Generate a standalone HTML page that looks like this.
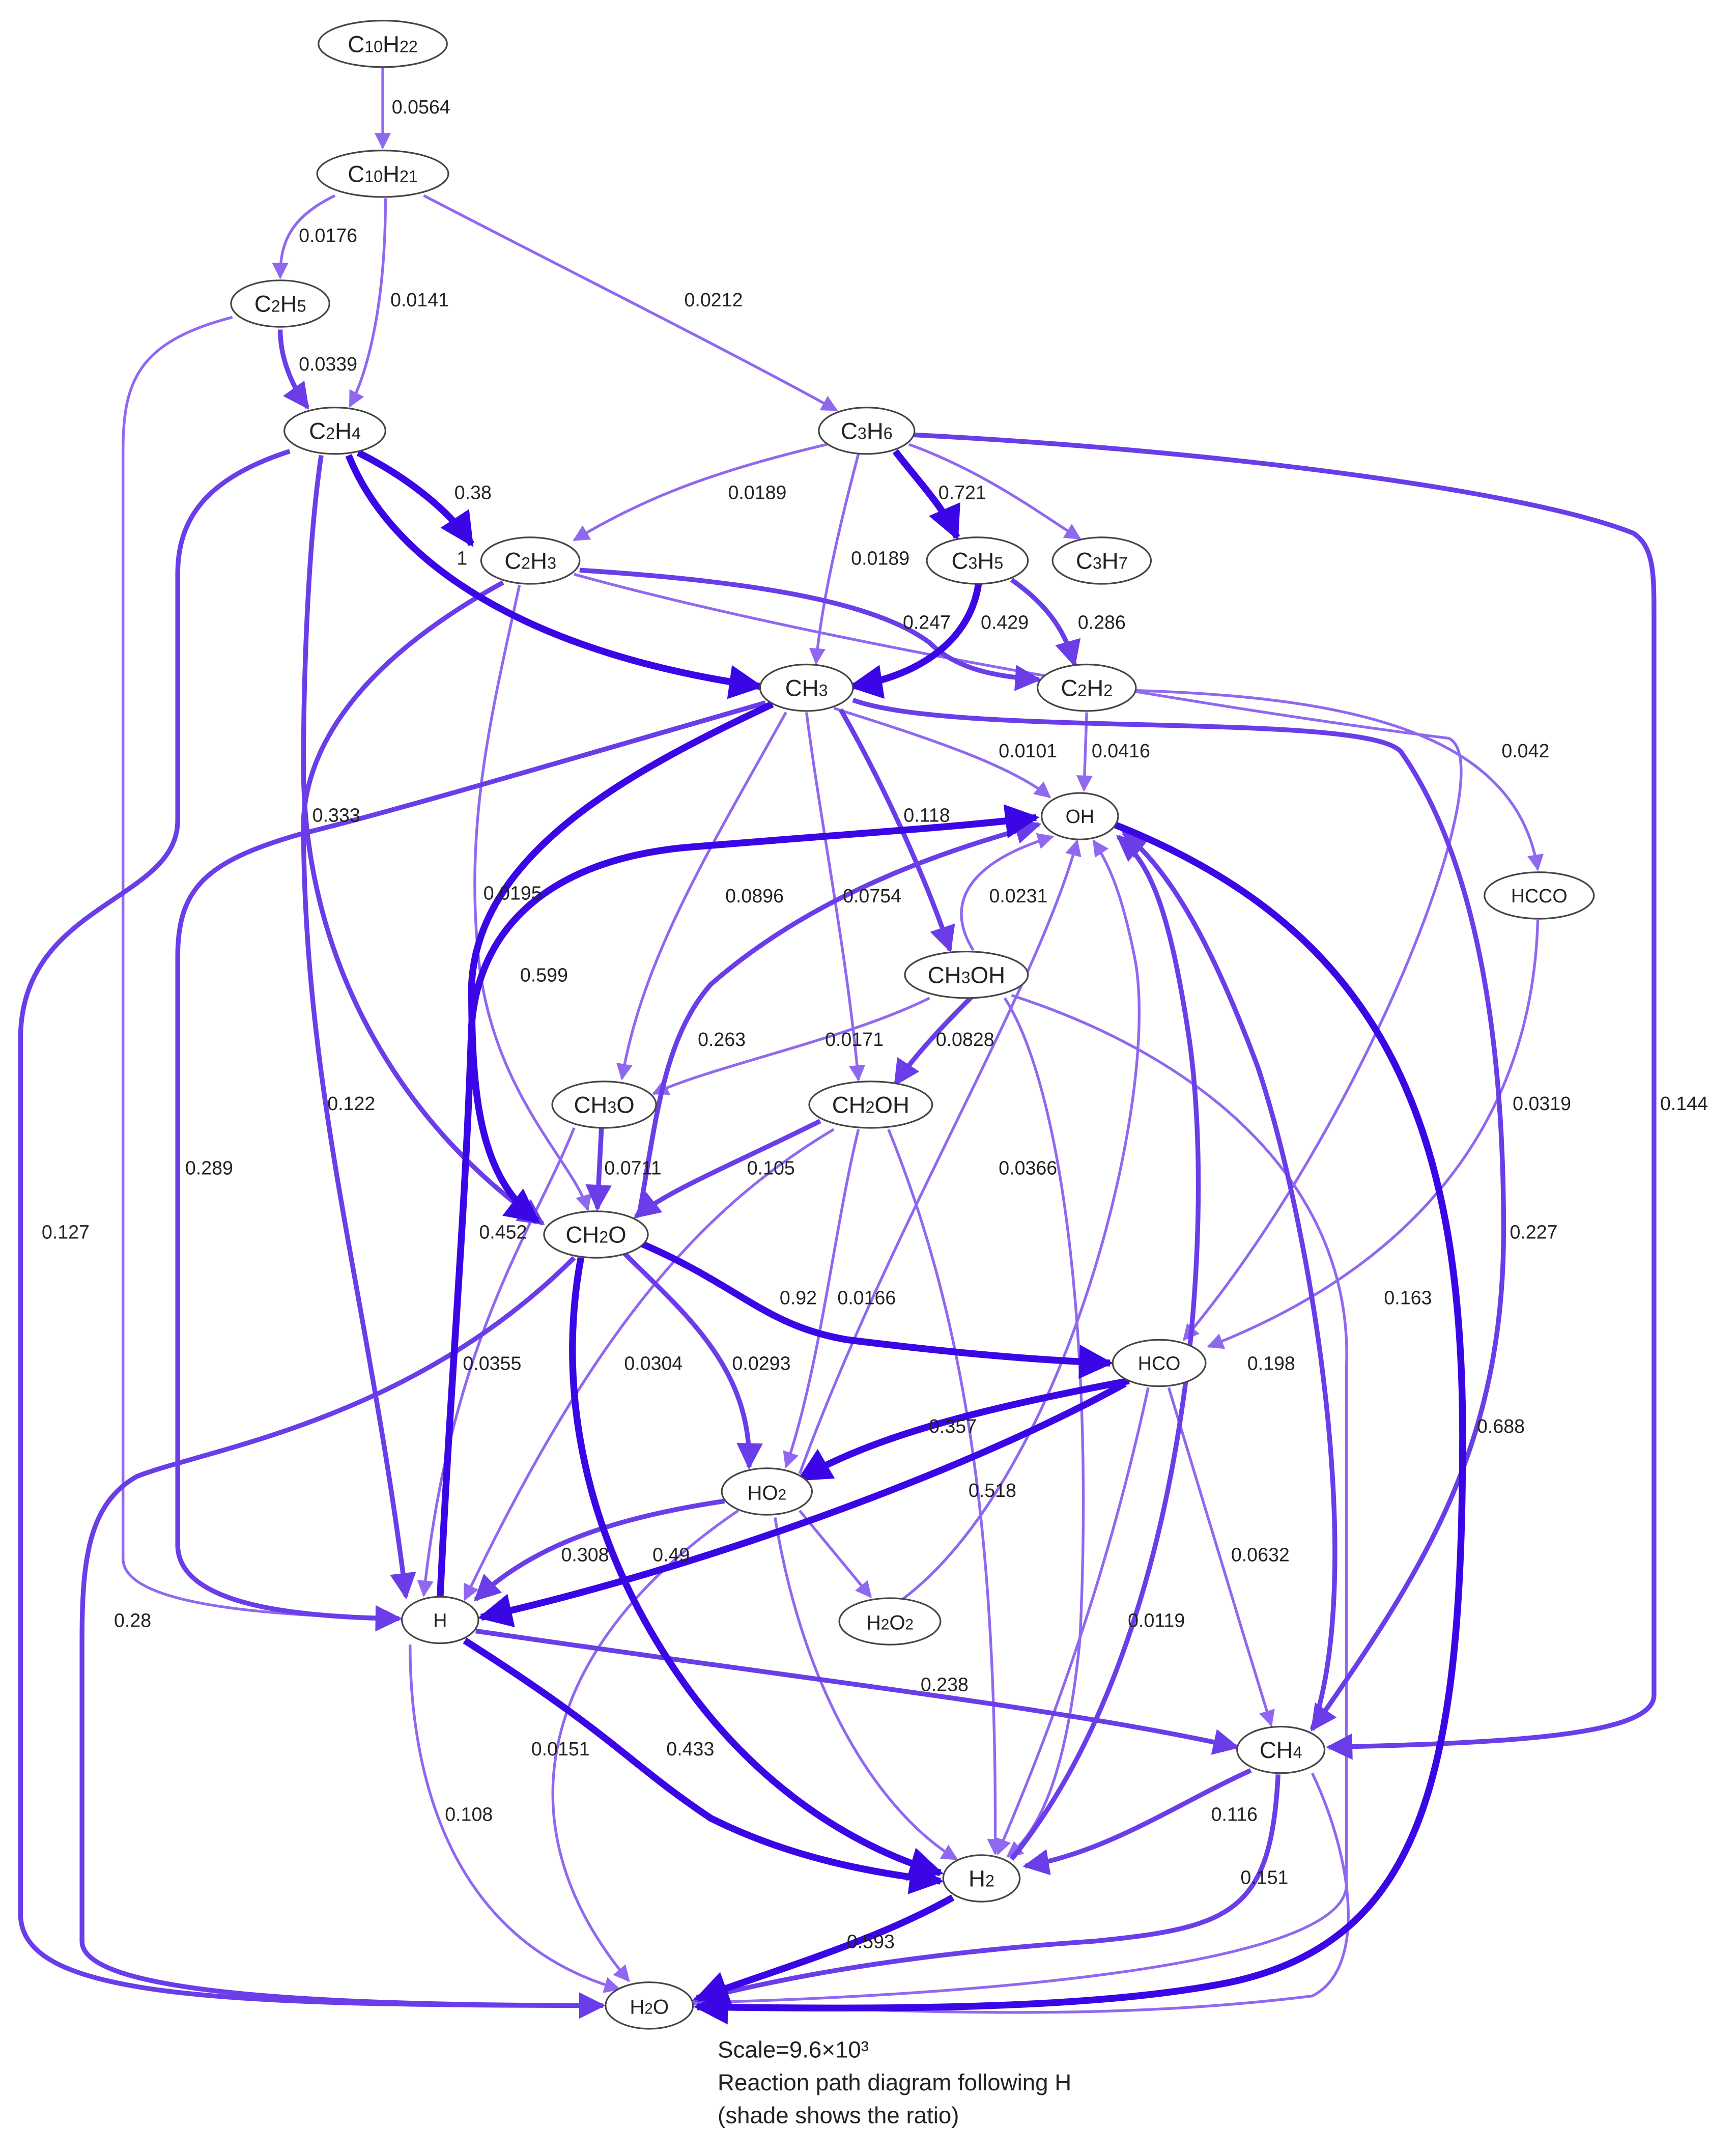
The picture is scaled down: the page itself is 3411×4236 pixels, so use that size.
<!DOCTYPE html>
<html><head><meta charset="utf-8"><style>
html,body{margin:0;padding:0;background:#fff;}
svg{display:block;}
text{font-family:"Liberation Sans",Arial,sans-serif;}
</style></head><body>
<svg width="3411" height="4236" viewBox="0 0 1270 1577" xmlns="http://www.w3.org/2000/svg">
<defs>
<marker id="mL" viewBox="0 0 10 10" refX="9" refY="5" markerWidth="7" markerHeight="6" orient="auto" markerUnits="strokeWidth"><path d="M0,0L10,5L0,10z" fill="#9068f0"/></marker>
<marker id="mM" viewBox="0 0 10 10" refX="9" refY="5" markerWidth="6" markerHeight="5.5" orient="auto" markerUnits="strokeWidth"><path d="M0,0L10,5L0,10z" fill="#6a3de9"/></marker>
<marker id="mD" viewBox="0 0 10 10" refX="9" refY="5" markerWidth="5.5" markerHeight="5" orient="auto" markerUnits="strokeWidth"><path d="M0,0L10,5L0,10z" fill="#3a06e6"/></marker>
</defs>
<rect width="1270" height="1577" fill="#fff"/>
<g fill="none">
<g stroke="#9068f0" stroke-width="2" marker-end="url(#mL)">
<path d="M280,49 L280,108"/>
<path d="M245,143 C210,160 205,180 205,203"/>
<path d="M282,145 C282,220 270,270 256,297"/>
<path d="M310,143 C420,200 540,260 612,300"/>
<path d="M170,232 C100,250 90,280 90,330 L90,1140 C90,1175 200,1182 293,1184"/>
<path d="M605,325 C520,345 470,365 420,395"/>
<path d="M628,332 C610,400 600,450 597,485"/>
<path d="M665,325 C720,345 760,375 790,394"/>
<path d="M380,428 C360,520 340,600 350,700 C360,800 420,850 430,885"/>
<path d="M420,420 C600,470 900,520 1060,540 C1100,560 1000,820 866,980"/>
<path d="M610,518 C680,540 740,560 768,583"/>
<path d="M795,521 L793,578"/>
<path d="M830,505 C1000,510 1110,540 1125,636"/>
<path d="M575,521 C520,620 470,700 455,789"/>
<path d="M590,521 C600,600 620,700 628,790"/>
<path d="M680,730 C620,760 520,780 478,800"/>
<path d="M735,730 C780,800 800,1000 790,1200 C780,1300 760,1340 737,1358"/>
<path d="M740,728 C900,780 990,880 985,1000 L985,1380 C980,1440 700,1460 507,1465"/>
<path d="M712,695 C690,660 710,630 770,612" />
<path d="M420,825 C390,900 330,980 310,1167"/>
<path d="M610,826 C520,880 440,960 340,1170"/>
<path d="M628,826 C610,900 600,1000 575,1073"/>
<path d="M650,826 C700,950 730,1100 728,1356"/>
<path d="M585,1078 C650,900 760,720 788,615"/>
<path d="M660,1170 C780,1080 850,800 830,700 C820,650 810,630 800,615"/>
<path d="M1125,673 C1120,850 1000,940 884,985"/>
<path d="M840,1015 C800,1200 740,1330 730,1356"/>
<path d="M855,1015 C880,1100 905,1180 930,1262"/>
<path d="M540,1105 C400,1200 360,1330 460,1449"/>
<path d="M585,1105 L637,1168"/>
<path d="M567,1110 C590,1250 650,1330 700,1360"/>
<path d="M300,1203 C300,1300 330,1420 453,1455"/>
<path d="M960,1297 C990,1360 1000,1440 960,1460 C800,1480 650,1470 508,1466"/>
</g>
<g stroke="#6a3de9" stroke-width="3.5" marker-end="url(#mM)">
<path d="M205,241 C205,260 212,280 225,298"/>
<path d="M212,330 C150,350 130,380 130,420 L130,600 C130,660 15,660 15,760 L15,1400 C15,1460 150,1467 441,1467"/>
<path d="M235,333 C225,400 222,500 222,560 C222,700 290,820 397,895"/>
<path d="M368,426 C270,480 225,540 222,600 C222,800 270,950 297,1168"/>
<path d="M424,417 C550,425 640,440 680,470 C700,490 730,495 760,497"/>
<path d="M740,424 C770,445 780,465 786,486"/>
<path d="M668,318 C900,330 1120,360 1195,390 C1210,400 1210,420 1210,450 L1210,1240 C1210,1270 1100,1275 972,1278"/>
<path d="M615,519 C650,580 680,650 695,695"/>
<path d="M624,512 C700,540 1000,520 1025,550 C1060,600 1100,700 1100,900 C1100,1060 1040,1150 960,1265"/>
<path d="M560,514 C400,560 300,590 220,610 C150,630 130,650 130,700 L130,1130 C130,1175 220,1183 292,1184"/>
<path d="M712,728 C700,740 670,770 655,793"/>
<path d="M440,825 L437,884"/>
<path d="M600,820 C540,850 490,870 465,890"/>
<path d="M455,915 C500,960 550,1000 548,1073"/>
<path d="M420,920 C300,1040 150,1060 100,1080 C65,1100 60,1140 60,1200 L60,1420 C60,1460 250,1467 441,1467"/>
<path d="M530,1098 C450,1110 390,1130 348,1170"/>
<path d="M348,1193 C600,1230 780,1250 905,1278"/>
<path d="M960,1265 C1000,1150 960,900 920,780 C890,700 860,640 822,609"/>
<path d="M740,1360 C870,1200 890,900 870,760 C855,660 840,630 818,612"/>
<path d="M915,1295 C860,1320 810,1355 750,1365"/>
<path d="M935,1298 C930,1400 900,1410 800,1420 C650,1430 560,1450 508,1463"/>
<path d="M468,886 C480,820 485,760 520,720 C600,650 700,620 760,603"/>
</g>
<g stroke="#3a06e6" stroke-width="5" marker-end="url(#mD)">
<path d="M262,331 C300,350 330,375 345,398" />
<path d="M255,333 C290,420 400,480 556,502"/>
<path d="M655,330 C670,350 690,370 700,393"/>
<path d="M716,426 C710,470 670,495 623,502"/>
<path d="M565,515 C470,560 350,620 345,720 C345,800 350,860 393,893"/>
<path d="M322,1168 C330,1000 340,900 345,750 C350,680 400,630 500,620 C620,610 700,605 758,598"/>
<path d="M470,910 C540,940 560,970 620,980 C700,990 760,995 812,997"/>
<path d="M826,1010 C720,1030 640,1050 585,1082"/>
<path d="M823,1012 C700,1080 500,1150 352,1183"/>
<path d="M425,920 C410,1000 420,1100 480,1200 C540,1300 620,1350 688,1370"/>
<path d="M340,1200 C450,1270 460,1290 520,1330 C580,1360 640,1370 688,1376"/>
<path d="M697,1388 C640,1420 570,1440 510,1462"/>
<path d="M815,603 C1010,680 1070,820 1070,1050 C1070,1300 1040,1420 900,1450 C800,1470 650,1470 510,1468"/>
</g>
</g>
<g fill="#fff" stroke="#444" stroke-width="1.2">
<ellipse cx="280" cy="32" rx="47" ry="17"/>
<ellipse cx="280" cy="127" rx="48" ry="17"/>
<ellipse cx="205" cy="222" rx="36" ry="17"/>
<ellipse cx="245" cy="315" rx="37" ry="17"/>
<ellipse cx="634" cy="315" rx="35" ry="17"/>
<ellipse cx="388" cy="410" rx="36" ry="17"/>
<ellipse cx="715" cy="410" rx="37" ry="17"/>
<ellipse cx="806" cy="410" rx="36" ry="17"/>
<ellipse cx="590" cy="503" rx="34" ry="17"/>
<ellipse cx="795" cy="503" rx="36" ry="17"/>
<ellipse cx="790" cy="597" rx="28" ry="17"/>
<ellipse cx="1126" cy="655" rx="40" ry="17"/>
<ellipse cx="707" cy="713" rx="45" ry="17"/>
<ellipse cx="442" cy="808" rx="38" ry="17"/>
<ellipse cx="637" cy="808" rx="45" ry="17"/>
<ellipse cx="436" cy="903" rx="38" ry="17"/>
<ellipse cx="848" cy="997" rx="34" ry="17"/>
<ellipse cx="561" cy="1091" rx="33" ry="17"/>
<ellipse cx="651" cy="1186" rx="37" ry="17"/>
<ellipse cx="322" cy="1185" rx="28" ry="17"/>
<ellipse cx="937" cy="1280" rx="32" ry="17"/>
<ellipse cx="718" cy="1374" rx="28" ry="17"/>
<ellipse cx="475" cy="1467" rx="32" ry="17"/>
</g>
<g font-size="17" fill="#222" text-anchor="middle">
<text x="280" y="38">C<tspan font-size="12">10</tspan>H<tspan font-size="12">22</tspan></text>
<text x="280" y="133">C<tspan font-size="12">10</tspan>H<tspan font-size="12">21</tspan></text>
<text x="205" y="228">C<tspan font-size="12">2</tspan>H<tspan font-size="12">5</tspan></text>
<text x="245" y="321">C<tspan font-size="12">2</tspan>H<tspan font-size="12">4</tspan></text>
<text x="634" y="321">C<tspan font-size="12">3</tspan>H<tspan font-size="12">6</tspan></text>
<text x="388" y="416">C<tspan font-size="12">2</tspan>H<tspan font-size="12">3</tspan></text>
<text x="715" y="416">C<tspan font-size="12">3</tspan>H<tspan font-size="12">5</tspan></text>
<text x="806" y="416">C<tspan font-size="12">3</tspan>H<tspan font-size="12">7</tspan></text>
<text x="590" y="509">CH<tspan font-size="12">3</tspan></text>
<text x="795" y="509">C<tspan font-size="12">2</tspan>H<tspan font-size="12">2</tspan></text>
<text x="790" y="602" font-size="14">OH</text>
<text x="1126" y="660" font-size="14">HCCO</text>
<text x="707" y="719">CH<tspan font-size="12">3</tspan>OH</text>
<text x="442" y="814">CH<tspan font-size="12">3</tspan>O</text>
<text x="637" y="814">CH<tspan font-size="12">2</tspan>OH</text>
<text x="436" y="909">CH<tspan font-size="12">2</tspan>O</text>
<text x="848" y="1002" font-size="14">HCO</text>
<text x="561" y="1097" font-size="15">HO<tspan font-size="11">2</tspan></text>
<text x="651" y="1192" font-size="15">H<tspan font-size="11">2</tspan>O<tspan font-size="11">2</tspan></text>
<text x="322" y="1190" font-size="14">H</text>
<text x="937" y="1286">CH<tspan font-size="12">4</tspan></text>
<text x="718" y="1380">H<tspan font-size="12">2</tspan></text>
<text x="475" y="1473" font-size="15">H<tspan font-size="11">2</tspan>O</text>
</g>
<g font-size="14" fill="#222" text-anchor="middle">
<text x="308" y="83">0.0564</text>
<text x="240" y="177">0.0176</text>
<text x="307" y="224">0.0141</text>
<text x="522" y="224">0.0212</text>
<text x="240" y="271">0.0339</text>
<text x="346" y="365">0.38</text>
<text x="554" y="365">0.0189</text>
<text x="704" y="365">0.721</text>
<text x="338" y="413">1</text>
<text x="644" y="413">0.0189</text>
<text x="678" y="460">0.247</text>
<text x="735" y="460">0.429</text>
<text x="806" y="460">0.286</text>
<text x="752" y="554">0.0101</text>
<text x="820" y="554">0.0416</text>
<text x="1116" y="554">0.042</text>
<text x="246" y="601">0.333</text>
<text x="678" y="601">0.118</text>
<text x="375" y="658">0.0195</text>
<text x="552" y="660">0.0896</text>
<text x="638" y="660">0.0754</text>
<text x="745" y="660">0.0231</text>
<text x="398" y="718">0.599</text>
<text x="528" y="765">0.263</text>
<text x="625" y="765">0.0171</text>
<text x="706" y="765">0.0828</text>
<text x="257" y="812">0.122</text>
<text x="1128" y="812">0.0319</text>
<text x="1232" y="812">0.144</text>
<text x="153" y="859">0.289</text>
<text x="463" y="859">0.0711</text>
<text x="564" y="859">0.105</text>
<text x="752" y="859">0.0366</text>
<text x="48" y="906">0.127</text>
<text x="368" y="906">0.452</text>
<text x="1122" y="906">0.227</text>
<text x="584" y="954">0.92</text>
<text x="634" y="954">0.0166</text>
<text x="1030" y="954">0.163</text>
<text x="360" y="1002">0.0355</text>
<text x="478" y="1002">0.0304</text>
<text x="557" y="1002">0.0293</text>
<text x="930" y="1002">0.198</text>
<text x="697" y="1048">0.357</text>
<text x="1098" y="1048">0.688</text>
<text x="726" y="1095">0.518</text>
<text x="428" y="1142">0.308</text>
<text x="491" y="1142">0.49</text>
<text x="922" y="1142">0.0632</text>
<text x="97" y="1190">0.28</text>
<text x="846" y="1190">0.0119</text>
<text x="691" y="1237">0.238</text>
<text x="410" y="1284">0.0151</text>
<text x="505" y="1284">0.433</text>
<text x="343" y="1332">0.108</text>
<text x="903" y="1332">0.116</text>
<text x="925" y="1378">0.151</text>
<text x="637" y="1425">0.593</text>
</g>
<g font-size="17" fill="#222">
<text x="525" y="1505">Scale=9.6×10³</text>
<text x="525" y="1529">Reaction path diagram following H</text>
<text x="525" y="1553">(shade shows the ratio)</text>
</g>
</svg>
</body></html>
